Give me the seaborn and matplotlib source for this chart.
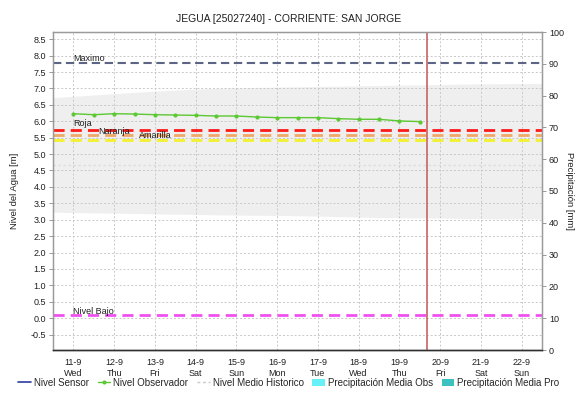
import matplotlib
matplotlib.use("Agg")
import matplotlib.pyplot as plt
from matplotlib.lines import Line2D
from matplotlib.patches import Patch
import seaborn as sns
import pandas as pd

# Observed water level (m), every 12 h from 11-9 00:00 to 19-9 12:00
obs_days = [11.0, 11.5, 12.0, 12.5, 13.0, 13.5, 14.0, 14.5, 15.0,
            15.5, 16.0, 16.5, 17.0, 17.5, 18.0, 18.5, 19.0, 19.5]
obs_level = [6.23, 6.20, 6.23, 6.22, 6.20, 6.19, 6.18, 6.16, 6.16,
             6.13, 6.11, 6.11, 6.11, 6.08, 6.06, 6.06, 6.01, 5.99]

# Historic level envelope (m)
hist_days = [10.5, 11, 12, 13, 14, 15, 16, 17, 18, 19, 20, 21, 22, 22.5]
hist_upper = [6.72, 6.76, 6.84, 6.92, 6.98, 7.02, 7.04, 7.06, 7.08, 7.10, 7.12, 7.14, 7.15, 7.15]
hist_lower = [3.23, 3.22, 3.20, 3.18, 3.16, 3.14, 3.13, 3.11, 3.08, 3.06, 3.05, 3.03, 3.02, 3.02]
hist_mean = 4.68

# Alert thresholds (m)
thr_names = ["Maximo", "Roja", "Naranja", "Amarilla", "Nivel Bajo"]
thr_values = [7.77, 5.73, 5.58, 5.43, 0.09]
thr_colors = ["#5c6684", "#ff1a1a", "#f0a868", "#f2f230", "#f050f0"]

now_day = 19.68

tick_days = list(range(11, 23))
tick_dates = ["11-9", "12-9", "13-9", "14-9", "15-9", "16-9",
              "17-9", "18-9", "19-9", "20-9", "21-9", "22-9"]
tick_weekdays = ["Wed", "Thu", "Fri", "Sat", "Sun", "Mon",
                 "Tue", "Wed", "Thu", "Fri", "Sat", "Sun"]

sns.set_style("white")
plt.rcParams["font.family"] = ["Liberation Sans", "DejaVu Sans"]

fig = plt.figure(figsize=(5.78, 3.97), dpi=100)
ax = fig.add_axes([53 / 578, 1 - 350 / 397, 489 / 578, 318 / 397])
ax2 = ax.twinx()

ax.set_xlim(10.5, 22.5)
ax.set_ylim(-0.97, 8.72)
ax2.set_ylim(0, 100)

# grid
ax.set_xticks(tick_days)
ax.set_yticks([v / 2 for v in range(-1, 18)])
ax.grid(True, color="#c8c8c8", linestyle=(0, (2, 2)), linewidth=0.7)
ax.set_axisbelow(True)

# historic envelope and mean
ax.fill_between(hist_days, hist_lower, hist_upper, color="#efefef", linewidth=0, zorder=0.5)
ax.axhline(hist_mean, color="#dcdcdc", linestyle=(0, (2, 2)), linewidth=0.9, zorder=0.6)

# thresholds
for name, val, col in zip(thr_names, thr_values, thr_colors):
    lw = 1.5 if name == "Maximo" else 2.0
    ax.axhline(val, color=col, linestyle=(0, (4, 2.2)), linewidth=lw, zorder=2)

# label anchors (day, level of text centre)
lbl_pos = {"Maximo": (11.0, 7.91), "Roja": (11.0, 5.93), "Naranja": (11.6, 5.69),
           "Amarilla": (12.6, 5.56), "Nivel Bajo": (11.0, 0.21)}
for name in thr_names:
    dx, dy = lbl_pos[name]
    ax.text(dx, dy, name, fontsize=6.5, color="#202020", va="center", ha="left", zorder=3)

# observed level
df = pd.DataFrame({"dia": obs_days, "nivel": obs_level})
sns.lineplot(data=df, x="dia", y="nivel", ax=ax, color="#5cc832", linewidth=1.0,
             marker="o", markersize=3, markeredgewidth=0, zorder=4)

# current time marker
ax.axvline(now_day, color="#c86464", linewidth=1.2, zorder=5)

# axes styling
ax.set_xticklabels([f"{d}\n{w}" for d, w in zip(tick_dates, tick_weekdays)])
ax.set_yticklabels([f"{v / 2:.1f}" for v in range(-1, 18)])
ax.tick_params(axis="both", labelsize=6.5, colors="#202020", length=3, width=0.6, direction="out",
               pad=2, color="#888888")
ax.tick_params(axis="x", length=0, pad=6)
ax2.set_yticks(range(0, 101, 10))
ax2.tick_params(axis="y", labelsize=6.5, colors="#202020", length=3, width=0.6, pad=2, color="#888888")

for a in (ax, ax2):
    for s in ("left", "right", "top"):
        a.spines[s].set_color("#9a9a9a")
        a.spines[s].set_linewidth(0.9)
    a.spines["bottom"].set_color("#303030")
    a.spines["bottom"].set_linestyle((0, (1, 1)))
    a.spines["bottom"].set_linewidth(1.0)

ax.set_xlabel("")
ax.set_ylabel("Nivel del Agua [m]", fontsize=6.8, labelpad=8, color="#202020")
ax2.set_ylabel("Precipitación [mm]", fontsize=6.8, rotation=270, labelpad=7, color="#202020")

fig.suptitle("JEGUA [25027240] - CORRIENTE: SAN JORGE", x=0.5, y=0.965, fontsize=7.5,
             color="#202020")

handles = [
    Line2D([], [], color="#2c3ca0", linewidth=1.2),
    Line2D([], [], color="#5cc832", linewidth=1.0, marker="o", markersize=3, markeredgewidth=0),
    Line2D([], [], color="#c8c8c8", linewidth=1.0, linestyle=(0, (2, 2))),
    Patch(facecolor="#66f0f8", edgecolor="none"),
    Patch(facecolor="#3cc0c0", edgecolor="none"),
]
labels = ["Nivel Sensor", "Nivel Observador", "Nivel Medio Historico",
          "Precipitación Media Obs", "Precipitación Media Pro"]
fig.legend(handles, labels, loc="center", bbox_to_anchor=(0.5, 1 - 383 / 397), ncol=5,
           frameon=False, fontsize=7, handlelength=1.3, handletextpad=0.3, columnspacing=0.9,
           handleheight=0.8)

fig.savefig("out.png", dpi=100)
